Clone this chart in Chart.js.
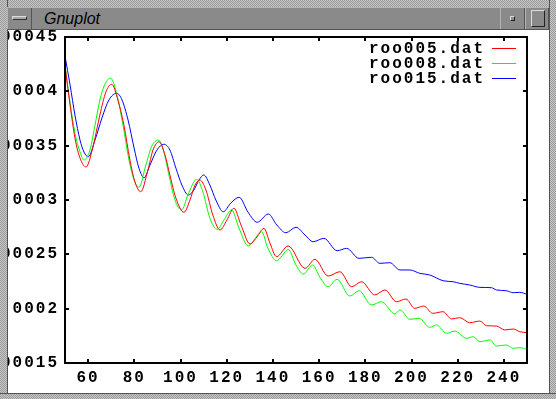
<!DOCTYPE html>
<html>
<head>
<meta charset="utf-8">
<script src="https://cdn.jsdelivr.net/npm/chart.js"></script>
<style>
body { margin: 0; width: 556px; height: 399px; overflow: hidden; background: #fff; position: relative; }
#plot { position: absolute; left: 0; top: 0; }
.frame { position: absolute; background: repeating-conic-gradient(#c8c8c8 0 25%, #9a9a9a 0 50%) 0 0 / 2px 2px; }
#fTop { left: 0; top: 0; width: 556px; height: 7px; }
#fLeft { left: 0; top: 0; width: 8px; height: 399px; border-right: 1px solid #555; box-sizing: border-box; }
#fRight { left: 549px; top: 0; width: 7px; height: 399px; border-left: 1px solid #555; box-sizing: border-box; }
#fBottom { left: 0; top: 393px; width: 556px; height: 6px; border-top: 1px solid #555; box-sizing: border-box; }
#titlebar { position: absolute; left: 7px; top: 7px; width: 542px; height: 23px; background: #8a8a8a;
  box-sizing: border-box; border-top: 1px solid #b4b4b4; border-bottom: 1px solid #555; }
#titlebar .title { position: absolute; left: 37px; top: 1px; font: italic 16px "Liberation Sans", sans-serif; color: #000; line-height: 20px; }
.btn { position: absolute; top: 0; height: 21px; box-sizing: border-box; border-left: 1px solid #b4b4b4; border-right: 1px solid #555; }
#bMenu { left: 0; width: 25px; }
#bMenu i { position: absolute; left: 4px; top: 8px; width: 15px; height: 4px; background: #a8a8a8; border: 1px solid; border-color: #ddd #333 #333 #ddd; box-sizing: border-box; }
#bMin { left: 493px; width: 25px; }
#bMin i { position: absolute; left: 9px; top: 8px; width: 5px; height: 5px; background: #8a8a8a; border: 1px solid; border-color: #ddd #222 #222 #ddd; box-sizing: border-box; }
#bMax { left: 518px; width: 24px; }
#bMax i { position: absolute; left: 5px; top: 2px; width: 14px; height: 17px; border: 1px solid; border-color: #ddd #222 #222 #ddd; box-sizing: border-box; }
</style>
</head>
<body>
<canvas id="plot" width="556" height="399"></canvas>
<div class="frame" id="fTop"></div>
<div class="frame" id="fLeft"></div>
<div class="frame" id="fRight"></div>
<div class="frame" id="fBottom"></div>
<div id="titlebar">
  <div class="btn" id="bMenu"><i></i></div>
  <div class="title">Gnuplot</div>
  <div class="btn" id="bMin"><i></i></div>
  <div class="btn" id="bMax"><i></i></div>
</div>
<script>
// tick values
var xTicks = [60, 80, 100, 120, 140, 160, 180, 200, 220, 240];
var yTicks = [0.00015, 0.0002, 0.00025, 0.0003, 0.00035, 0.0004, 0.00045];

var seriesLabels = ['roo005.dat', 'roo008.dat', 'roo015.dat'];
var seriesColors = ['#ff0000', '#00ff00', '#0000ff'];

// roo005.dat
var roo005X = [50, 52.2, 54.3, 56.5, 59.1, 62.1, 65.1, 67.7, 70.2, 72.9, 75.5, 78.1, 80.3, 82.8, 85.9,
  88.1, 90.7, 93.3, 95.4, 98.0, 101.5, 104.1, 106.3, 108.4, 111.0, 114.0, 117.1, 120.1, 123.1, 126.2,
  130.1, 133.1, 136.1, 138.7, 141.6, 146.6, 153.9, 158.2, 163.9, 169.0, 174.1, 178.4, 184.1, 188.5, 193.5,
  197.6, 201.4, 205.3, 209.2, 213.7, 217.3, 220.9, 225.2, 229.6, 232.5, 236.8, 240.4, 244.0, 246.9, 250];
var roo005Y = [0.0004233, 0.0003874, 0.0003571, 0.0003386, 0.0003304, 0.0003488, 0.0003782, 0.0003994, 0.0004065, 0.0003920,
  0.0003690, 0.0003368, 0.0003166, 0.0003076, 0.0003276, 0.0003460, 0.0003536, 0.0003414, 0.0003230, 0.0003018,
  0.0002887, 0.0003000, 0.0003138, 0.0003184, 0.0003092, 0.0002862, 0.0002724, 0.0002816, 0.0002924, 0.0002770,
  0.0002595, 0.0002659, 0.0002739, 0.0002604, 0.0002478, 0.0002577, 0.0002371, 0.0002454, 0.0002300, 0.0002340,
  0.0002202, 0.0002248, 0.0002126, 0.0002172, 0.0002064, 0.0002089, 0.0002003, 0.0002024, 0.0001957, 0.0001972,
  0.0001905, 0.0001917, 0.0001871, 0.0001886, 0.0001843, 0.0001840, 0.0001804, 0.0001813, 0.0001788, 0.0001779];

// roo008.dat
var roo008X = [50, 52.2, 54.3, 56.5, 58.2, 60.8, 63.0, 65.1, 67.3, 69.8, 72.5, 75.1, 77.7, 79.9, 82.0,
  85.0, 87.6, 90.4, 92.8, 95.0, 97.6, 100.5, 103.2, 107.0, 109.7, 112.7, 115.9, 118.8, 122.1, 125.3,
  129.3, 131.8, 135.1, 137.8, 141.6, 143.9, 146.6, 150.0, 153.1, 157.2, 160.3, 163.9, 167.8, 173.3, 177.3,
  182.7, 187.0, 192.8, 195.0, 199.3, 203.3, 207.9, 210.8, 215.2, 218.8, 223.8, 226.7, 229.6, 233.9, 236.8,
  241.1, 244.0, 246.9, 250];
var roo008Y = [0.0004242, 0.0003893, 0.0003617, 0.0003442, 0.0003368, 0.0003460, 0.0003690, 0.0003920, 0.0004067, 0.0004120,
  0.0003966, 0.0003690, 0.0003368, 0.0003184, 0.0003117, 0.0003322, 0.0003497, 0.0003552, 0.0003442, 0.0003230,
  0.0003000, 0.0002908, 0.0003046, 0.0003190, 0.0003074, 0.0002834, 0.0002730, 0.0002816, 0.0002908, 0.0002742,
  0.0002577, 0.0002632, 0.0002708, 0.0002558, 0.0002441, 0.0002485, 0.0002546, 0.0002402, 0.0002319, 0.0002402,
  0.0002291, 0.0002202, 0.0002270, 0.0002116, 0.0002165, 0.0002034, 0.0002064, 0.0001951, 0.0001988, 0.0001902,
  0.0001911, 0.0001828, 0.0001850, 0.0001773, 0.0001794, 0.0001727, 0.0001742, 0.0001696, 0.0001712, 0.0001656,
  0.0001666, 0.0001635, 0.0001641, 0.0001626];

// roo015.dat
var roo015X = [50, 52.2, 54.3, 56.5, 58.2, 60.1, 63.0, 66.0, 69.0, 72.4, 74.7, 77.3, 79.9, 82.0, 84.2,
  86.8, 89.8, 92.8, 95.4, 98.0, 100.6, 103.4, 105.8, 108.0, 110.1, 112.7, 115.3, 118.5, 121.8, 125.4,
  129.2, 133.2, 138.0, 141.7, 145.6, 150.0, 153.9, 157.4, 162.1, 167.8, 171.9, 177.3, 182.7, 186.3, 190.6,
  195.0, 199.3, 203.6, 207.9, 213.7, 218.0, 220.9, 225.2, 229.6, 234.6, 236.8, 241.1, 244.0, 246.9, 250];
var roo015Y = [0.0004325, 0.0004058, 0.0003782, 0.0003552, 0.0003442, 0.0003398, 0.0003552, 0.0003755, 0.0003920, 0.0003982,
  0.0003920, 0.0003736, 0.0003479, 0.0003294, 0.0003205, 0.0003322, 0.0003460, 0.0003513, 0.0003460, 0.0003294,
  0.0003138, 0.0003046, 0.0003092, 0.0003184, 0.0003230, 0.0003138, 0.0003000, 0.0002892, 0.0002972, 0.0003025,
  0.0002889, 0.0002795, 0.0002871, 0.0002770, 0.0002699, 0.0002749, 0.0002678, 0.0002616, 0.0002647, 0.0002533,
  0.0002555, 0.0002463, 0.0002473, 0.0002417, 0.0002423, 0.0002356, 0.0002356, 0.0002325, 0.0002310, 0.0002257,
  0.0002248, 0.0002233, 0.0002218, 0.0002196, 0.0002193, 0.0002172, 0.0002165, 0.0002147, 0.0002150, 0.0002132];

var tickFont = { family: 'Liberation Mono', size: 16, weight: 'bold' };
var letterGap = '2px';

function points(xs, ys) {
    return xs.map(function(x, i) { return { x: x, y: ys[i] }; });
}

// box, inward ticks on all four sides, and the key in the top right corner
var gnuplotFrame = {
    id: 'gnuplotFrame',
    beforeUpdate: function(chart) { chart.ctx.letterSpacing = letterGap; },
    beforeDraw: function(chart) { chart.ctx.letterSpacing = letterGap; },
    afterDraw: function(chart) {
        var ctx = chart.ctx, a = chart.chartArea;
        var sx = chart.scales.x, sy = chart.scales.y;
        ctx.save();
        ctx.strokeStyle = '#000';
        ctx.lineWidth = 2;
        ctx.strokeRect(a.left, a.top, a.right - a.left, a.bottom - a.top);
        ctx.beginPath();
        xTicks.forEach(function(v) {
            var p = Math.round(sx.getPixelForValue(v));
            ctx.moveTo(p, a.bottom); ctx.lineTo(p, a.bottom - 4);
            ctx.moveTo(p, a.top); ctx.lineTo(p, a.top + 4);
        });
        yTicks.forEach(function(v) {
            var p = Math.round(sy.getPixelForValue(v));
            ctx.moveTo(a.left, p); ctx.lineTo(a.left + 4, p);
            ctx.moveTo(a.right, p); ctx.lineTo(a.right - 4, p);
        });
        ctx.stroke();

        ctx.letterSpacing = letterGap;
        ctx.font = 'bold 16px "Liberation Mono"';
        ctx.textAlign = 'right';
        ctx.textBaseline = 'middle';
        ctx.fillStyle = '#000';
        chart.data.datasets.forEach(function(ds, i) {
            var y = a.top + 11 + i * 15;
            ctx.fillText(ds.label, a.right - 42, y + 1);
            ctx.strokeStyle = ds.borderColor;
            ctx.lineWidth = 1;
            ctx.beginPath();
            ctx.moveTo(a.right - 35, y + 0.5);
            ctx.lineTo(a.right - 11, y + 0.5);
            ctx.stroke();
        });
        ctx.restore();
    }
};

var ctx = document.getElementById('plot');
var myChart = new Chart(ctx, {
    type: 'line',
    data: {
        datasets: [
            { label: seriesLabels[0], data: points(roo005X, roo005Y), borderColor: seriesColors[0] },
            { label: seriesLabels[1], data: points(roo008X, roo008Y), borderColor: seriesColors[1] },
            { label: seriesLabels[2], data: points(roo015X, roo015Y), borderColor: seriesColors[2] }
        ]
    },
    options: {
        responsive: false,
        animation: false,
        devicePixelRatio: 1,
        layout: { padding: { top: 37, right: 29, left: 0, bottom: 0 } },
        plugins: { legend: { display: false }, tooltip: { enabled: false } },
        elements: {
            point: { radius: 0 },
            line: { borderWidth: 1, cubicInterpolationMode: 'monotone', fill: false }
        },
        scales: {
            x: {
                type: 'linear', min: 50, max: 250,
                grid: { display: false, drawTicks: false },
                border: { display: false },
                afterBuildTicks: function(s) { s.ticks = xTicks.map(function(v) { return { value: v }; }); },
                afterFit: function(s) { s.height = 36; },
                ticks: { font: tickFont, color: '#000', padding: 5, maxRotation: 0, autoSkip: false }
            },
            y: {
                type: 'linear', min: 0.00015, max: 0.00045,
                grid: { display: false, drawTicks: false },
                border: { display: false },
                afterBuildTicks: function(s) { s.ticks = yTicks.map(function(v) { return { value: v }; }); },
                afterFit: function(s) { s.width = 65; },
                ticks: { font: tickFont, color: '#000', padding: 6, autoSkip: false,
                         callback: function(v) { return String(v); } }
            }
        }
    },
    plugins: [gnuplotFrame]
});
</script>
</body>
</html>
